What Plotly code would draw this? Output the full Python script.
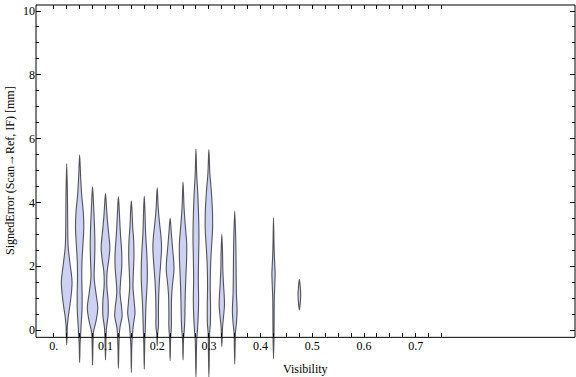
import plotly.graph_objects as go

# ---- data (violin profiles) ----
visibility = [0.025, 0.05, 0.075, 0.1, 0.125, 0.15, 0.175, 0.2, 0.225, 0.25,
              0.275, 0.3, 0.325, 0.35, 0.425, 0.475]

# signed error levels (mm) at which the density width was read, per violin
err_levels = [
    [-0.47, -0.1, 0.1, 0.4, 0.9, 1.5, 2.1, 2.6, 3.2, 4.2, 5.22],
    [-1.02, -0.4, -0.15, 0.15, 0.6, 1.1, 1.6, 2.15, 2.7, 3.2, 3.7, 4.25, 4.8, 5.49],
    [-1.1, -0.4, -0.05, 0.26, 0.69, 1.1, 1.62, 2.14, 2.66, 3.2, 3.7, 4.1, 4.49],
    [-0.94, -0.3, 0.06, 0.47, 0.9, 1.4, 1.83, 2.25, 2.6, 3.0, 3.5, 3.9, 4.28],
    [-1.2, -0.5, -0.1, 0.1, 0.42, 0.7, 1.15, 1.46, 1.98, 2.4, 3.03, 3.66, 4.18],
    [-1.33, -0.5, -0.1, 0.16, 0.52, 0.84, 1.36, 1.78, 2.3, 2.82, 3.24, 3.7, 4.05],
    [-1.23, -0.4, 0.0, 0.31, 0.73, 1.15, 1.57, 1.98, 2.51, 3.03, 3.66, 4.2],
    [-0.5, -0.1, 0.1, 0.52, 1.05, 1.57, 2.09, 2.6, 2.95, 3.35, 3.85, 4.46],
    [-0.96, -0.3, 0.1, 0.52, 1.04, 1.46, 1.88, 2.19, 2.61, 3.03, 3.5],
    [-0.94, -0.3, 0.0, 0.31, 0.73, 1.25, 1.78, 2.3, 2.72, 3.24, 3.85, 4.64],
    [-1.5, -0.6, -0.31, 0.0, 0.42, 0.94, 1.57, 2.3, 2.92, 3.55, 4.17, 4.9, 5.67],
    [-1.5, -0.6, -0.1, 0.21, 0.73, 1.36, 1.98, 2.61, 3.13, 3.66, 4.39, 4.9, 5.66],
    [-0.52, -0.1, 0.1, 0.42, 0.8, 1.46, 1.9, 2.4, 3.0],
    [-1.07, -0.3, -0.1, 0.21, 0.63, 1.15, 1.98, 2.82, 3.73],
    [-0.89, -0.2, 0.22, 0.94, 1.46, 1.78, 1.98, 2.51, 3.52],
    [0.63, 0.85, 1.1, 1.35, 1.59],
]
# relative density (full violin width) at those levels
density = [
    [0, 1, 1.2, 3, 7.5, 10.7, 6.5, 3, 2, 1.5, 0],
    [0, 1, 2, 3, 4.7, 5, 4.3, 4.7, 6.7, 8.3, 7.3, 4, 2, 0],
    [0, 1, 2, 6.7, 10.5, 7.3, 3.3, 4, 4.7, 4, 2.7, 1.5, 0],
    [0, 1, 2, 5.3, 5.3, 2.7, 3.3, 7, 8.7, 6.5, 3.5, 1.8, 0],
    [0, 1, 2, 3.3, 7.3, 6.5, 3.3, 4, 6.7, 6.7, 4, 2, 0],
    [0, 1, 2.5, 4, 7.3, 6, 3.3, 4, 5.3, 4.7, 2.7, 1.5, 0],
    [0, 1, 2, 2.5, 3.3, 4.7, 6, 6, 4.7, 2.7, 1.5, 0],
    [0, 1, 2.5, 2.5, 3, 4.5, 7, 8.7, 7.5, 4.7, 2, 0],
    [0, 1, 2.5, 2.5, 3, 5, 7.8, 7, 4.7, 2.5, 0],
    [0, 1, 2.5, 3.5, 4, 4.7, 6, 7.3, 7.3, 4.7, 2, 0],
    [0, 1, 1.5, 3, 4.5, 5.3, 4.7, 5.3, 6, 5.3, 4, 1.5, 0],
    [0, 1, 1.5, 3, 3.3, 2.7, 3.3, 5.3, 7.3, 7.3, 4.7, 2, 0],
    [0, 1, 1.5, 3.5, 5.3, 3.3, 2, 1.5, 0],
    [0, 1, 1.3, 3.3, 4.7, 3.3, 2.7, 2, 0],
    [0, 1, 1.2, 1.5, 2.7, 3.3, 2.7, 1.3, 0],
    [0, 1.8, 2.7, 1.8, 0],
]

x_tick_vals = [0.0, 0.1, 0.2, 0.3, 0.4, 0.5, 0.6, 0.7]
x_tick_text = ["0.", "0.1", "0.2", "0.3", "0.4", "0.5", "0.6", "0.7"]
y_tick_vals = [0, 2, 4, 6, 8, 10]
y_tick_text = ["0", "2", "4", "6", "8", "10"]

# ---- styling ----
WIDTH_SCALE = 1.0 / 517.0  # density units -> x units
FILL = "rgb(205,210,245)"
EDGE = "rgba(45,45,45,0.8)"
FONT = "Liberation Serif, Times New Roman, serif"
X_RANGE = [-0.0344, 1.0081]
Y_RANGE = [-1.473, 10.188]
FRAME_BOTTOM = -0.23

fig = go.Figure()
for c, ys, ws in zip(visibility, err_levels, density):
    hw = [w * WIDTH_SCALE / 2 for w in ws]
    xs = [c + h for h in hw] + [c - h for h in hw[-2::-1]]
    yy = list(ys) + list(ys[-2::-1])
    fig.add_trace(go.Scatter(
        x=xs, y=yy, mode="lines", fill="toself", fillcolor=FILL,
        line=dict(color=EDGE, width=1.1, shape="spline", smoothing=1.0),
        hoverinfo="skip", showlegend=False))

# dummy trace to activate mirrored axes
fig.add_trace(go.Scatter(x=[None], y=[None], xaxis="x2", yaxis="y2",
                         showlegend=False, hoverinfo="skip"))

minor_x = [round(0.025 * i, 3) for i in range(31) if i % 4 != 0]
all_x = [round(0.025 * i, 3) for i in range(31)]
minor_y = [0.5 * i for i in range(21) if i % 4 != 0]

y_frac_bottom = (FRAME_BOTTOM - Y_RANGE[0]) / (Y_RANGE[1] - Y_RANGE[0])

fig.update_layout(
    width=576, height=377,
    margin=dict(l=36, r=1, t=5, b=0, autoexpand=False),
    paper_bgcolor="white", plot_bgcolor="white",
    font=dict(family=FONT, size=12, color="black"),
    xaxis=dict(range=X_RANGE, anchor="free", position=y_frac_bottom, automargin=False,
               showgrid=False, zeroline=False, showline=False,
               tickmode="array", tickvals=x_tick_vals, ticktext=x_tick_text,
               ticks="inside", ticklen=4, tickcolor="black", tickwidth=1,
               minor=dict(tickmode="array", tickvals=minor_x, ticks="inside",
                          ticklen=4, tickcolor="black", tickwidth=1, showgrid=False),
               tickfont=dict(family=FONT, size=12, color="black")),
    yaxis=dict(range=Y_RANGE, automargin=False, showgrid=False, zeroline=False, showline=False,
               tickmode="array", tickvals=y_tick_vals, ticktext=y_tick_text,
               ticks="inside", ticklen=5, tickcolor="black", tickwidth=1,
               minor=dict(tickmode="array", tickvals=minor_y, ticks="inside",
                          ticklen=3, tickcolor="black", tickwidth=1, showgrid=False),
               tickfont=dict(family=FONT, size=12, color="black")),
    xaxis2=dict(range=X_RANGE, overlaying="x", side="top", anchor="y2", automargin=False,
                showgrid=False, zeroline=False, showline=False,
                tickmode="array", tickvals=all_x, showticklabels=False,
                ticks="inside", ticklen=4, tickcolor="black", tickwidth=1),
    yaxis2=dict(range=Y_RANGE, overlaying="y", side="right", anchor="x2", automargin=False,
                showgrid=False, zeroline=False, showline=False,
                tickmode="array", tickvals=y_tick_vals, showticklabels=False,
                ticks="inside", ticklen=5, tickcolor="black", tickwidth=1,
                minor=dict(tickmode="array", tickvals=minor_y, ticks="inside",
                           ticklen=3, tickcolor="black", tickwidth=1, showgrid=False)),
    shapes=[dict(type="rect", xref="paper", yref="paper",
                 x0=0, x1=1, y0=y_frac_bottom, y1=1,
                 line=dict(color="black", width=1), fillcolor="rgba(0,0,0,0)",
                 layer="above")],
    annotations=[
        dict(text="Visibility", xref="paper", yref="paper", x=0.5, y=(377 - 369) / 372,
             xanchor="center", yanchor="middle", showarrow=False,
             font=dict(family=FONT, size=12, color="black")),
        dict(text="SignedError (Scan\u2192Ref, IF) [mm]", xref="paper", yref="paper",
             x=0, xshift=-26, y=(377 - 171) / 372, xanchor="center", yanchor="middle",
             textangle=-90, showarrow=False,
             font=dict(family=FONT, size=12, color="black")),
    ],
)

fig.write_html("out.html",
               config={"displayModeBar": False, "staticPlot": True},
               post_script="document.body.style.margin='0px';"
                           "document.body.style.overflow='hidden';")
